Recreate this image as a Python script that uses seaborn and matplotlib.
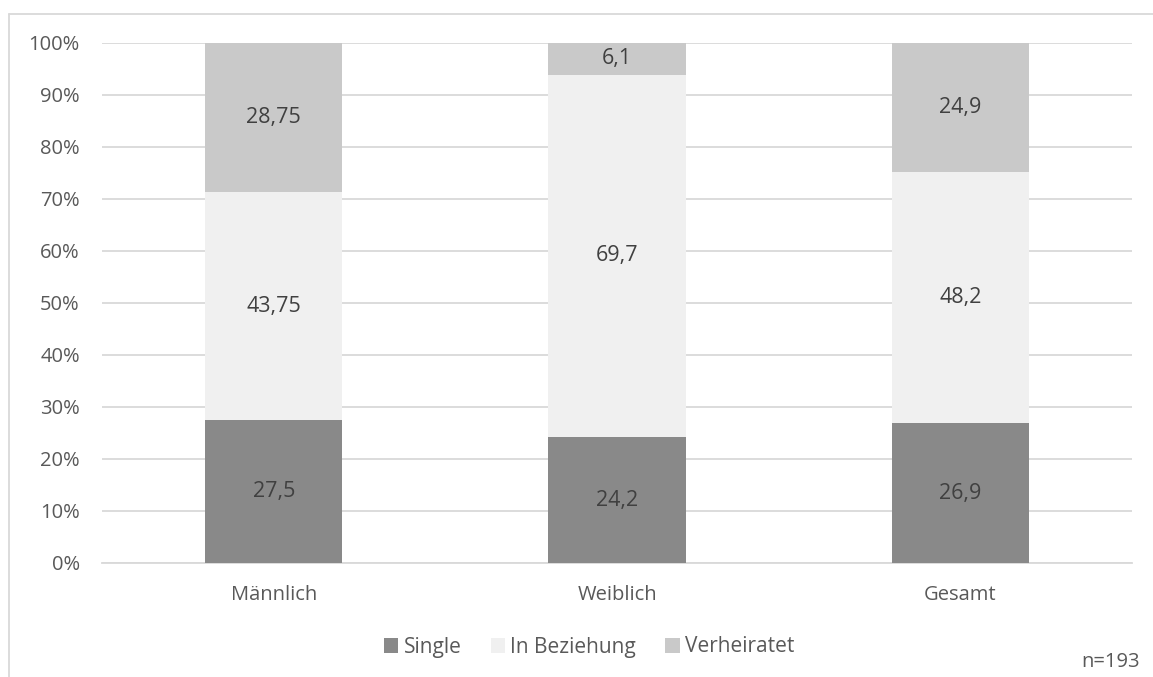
import matplotlib
matplotlib.use("Agg")
import matplotlib.pyplot as plt
from matplotlib.lines import Line2D
from matplotlib.patches import Patch
import seaborn as sns
import pandas as pd
import numpy as np

categories = ["Männlich", "Weiblich", "Gesamt"]
series_names = ["Single", "In Beziehung", "Verheiratet"]
single = [27.5, 24.2, 26.9]
beziehung = [43.75, 69.7, 48.2]
verheiratet = [28.75, 6.1, 24.9]
y_ticks = [0, 10, 20, 30, 40, 50, 60, 70, 80, 90, 100]
sample_note = "n=193"

colors = ["#898989", "#F0F0F0", "#C9C9C9"]
text_color = "#595959"
grid_color = "#D9D9D9"

sns.set_theme(style="white")
plt.rcParams["font.family"] = ["Open Sans", "DejaVu Sans"]

fig = plt.figure(figsize=(11.53, 6.77), dpi=100)
ax = fig.add_axes([0.0885, 0.1684, 0.8933, 0.7681])

values = [single, beziehung, verheiratet]
df = pd.DataFrame({"Kategorie": categories})
for name, vals in zip(series_names, values):
    df[name] = vals

# Draw stacked segments back to front using cumulative heights
cum = np.cumsum(np.array(values), axis=0)
for i in reversed(range(len(series_names))):
    sns.barplot(x=df["Kategorie"], y=cum[i], color=colors[i], width=0.4,
                ax=ax, saturation=1, linewidth=0, zorder=3)

# Value labels centred in each segment
for i, vals in enumerate(values):
    bottoms = cum[i] - np.array(vals)
    for j, v in enumerate(vals):
        label = f"{v:g}".replace(".", ",")
        ax.text(j, bottoms[j] + v / 2, label, ha="center", va="center",
                fontsize=15.5, color="#404040", zorder=5)

ax.set_xlim(-0.5, 2.5)
ax.set_ylim(0, 100)
ax.set_yticks(y_ticks)
ax.set_yticklabels([f"{t}%" for t in y_ticks])
ax.yaxis.grid(True, color=grid_color, linewidth=1.3, zorder=0)
ax.set_axisbelow(True)
for s in ax.spines.values():
    s.set_visible(False)
ax.spines["bottom"].set_visible(True)
ax.spines["bottom"].set_color(grid_color)
ax.spines["bottom"].set_linewidth(1.3)
ax.tick_params(axis="both", length=0, colors=text_color, labelsize=14.5)
ax.tick_params(axis="y", pad=16)
ax.tick_params(axis="x", pad=16)
ax.set_xlabel("")
ax.set_ylabel("")

handles = [Patch(facecolor=c, edgecolor="none") for c in colors]
leg = fig.legend(handles, series_names, loc="center", ncol=3,
                 bbox_to_anchor=(0.511, 1 - 647 / 677), frameon=False,
                 handlelength=0.7, handleheight=0.7, handletextpad=0.25,
                 columnspacing=1.4, fontsize=15)
for t in leg.get_texts():
    t.set_color(text_color)

fig.text(0.989, 1 - 662 / 677, sample_note, ha="right", va="center",
         fontsize=14.5, color=text_color)

# Outer chart frame (top and left edges)
fig.add_artist(Line2D([9 / 1153, 1.0], [1 - 14 / 677] * 2,
                      transform=fig.transFigure, color=grid_color, linewidth=1.3))
fig.add_artist(Line2D([9 / 1153] * 2, [0, 1 - 14 / 677],
                      transform=fig.transFigure, color=grid_color, linewidth=1.3))

fig.savefig("out.png", dpi=100, facecolor="white")
